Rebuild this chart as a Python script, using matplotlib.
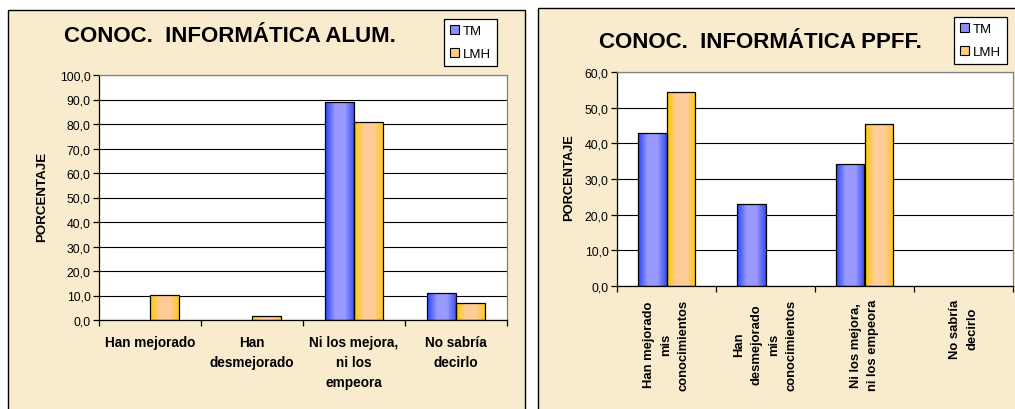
import numpy as np
import matplotlib
matplotlib.use('Agg')
import matplotlib.pyplot as plt
from matplotlib.colors import LinearSegmentedColormap
from matplotlib.patches import Rectangle
from matplotlib.ticker import FuncFormatter, MultipleLocator

plt.rcParams['font.family'] = ['Liberation Sans', 'DejaVu Sans']

# ---------------------------------------------------------------
# data (percentages)
series = ['TM', 'LMH']

alum_cats = ['Han mejorado', 'Han\ndesmejorado', 'Ni los mejora,\nni los\nempeora', 'No sabría\ndecirlo']
alum_tm = [0.0, 0.0, 88.8, 11.0]
alum_lmh = [10.2, 1.5, 80.7, 7.1]

ppff_cats = ['Han mejorado\nmis\nconocimientos', 'Han\ndesmejorado\nmis\nconocimientos',
             'Ni los mejora,\nni los empeora', 'No sabría\ndecirlo']
ppff_tm = [42.8, 22.9, 34.2, 0.0]
ppff_lmh = [54.3, 0.0, 45.3, 0.0]

W, H = 1015, 410
bg = '#f9ebcd'

# excel style horizontal gradients for the bars
blue_cm = LinearSegmentedColormap.from_list('blue', ['#2a44ff', '#9999ff', '#9a9aff', '#3a4cf0'])
orange_cm = LinearSegmentedColormap.from_list('orange', ['#ffc800', '#ffcc99', '#ffcc99', '#ffc61a'])
swatch = {'TM': '#8c8cff', 'LMH': '#ffcc80'}


def gradient_bars(ax, x, heights, width, cmap):
    bars = ax.bar(x, heights, width, color='none', edgecolor='black', linewidth=0.9, zorder=3)
    grad = np.linspace(0, 1, 64).reshape(1, -1)
    for b in bars:
        if b.get_height() <= 0:
            b.set_visible(False)
            continue
        x0, y0 = b.get_x(), b.get_y()
        im = ax.imshow(grad, cmap=cmap, aspect='auto', zorder=2.5, interpolation='bilinear',
                       extent=(x0, x0 + b.get_width(), y0, y0 + b.get_height()))
        im.set_clip_path(b)
    return bars


def fmt(v, pos):
    return f'{v:.1f}'.replace('.', ',')


def draw_chart(ax, cats, tm, lmh, ymax, rotate):
    ax.set_facecolor('white')
    centers = np.arange(len(cats)) + 0.5
    bw = 0.285
    gradient_bars(ax, centers - bw / 2, tm, bw, blue_cm)
    gradient_bars(ax, centers + bw / 2, lmh, bw, orange_cm)
    ax.set_xlim(0, len(cats))
    ax.set_ylim(0, ymax)
    ax.yaxis.set_major_locator(MultipleLocator(10))
    ax.yaxis.set_major_formatter(FuncFormatter(fmt))
    ax.yaxis.grid(True, color='black', linewidth=0.8)
    ax.set_axisbelow(True)
    # ticks between categories, labels at the centres
    ax.set_xticks(np.arange(len(cats) + 1))
    ax.set_xticklabels([])
    ax.set_xticks(centers, minor=True)
    if rotate:
        ax.set_xticklabels(cats, minor=True, rotation=90, ha='center', va='top',
                           multialignment='center', fontweight='bold', fontsize=9.4, linespacing=1.6)
        ax.tick_params(axis='x', which='minor', length=0, pad=9)
    else:
        ax.set_xticklabels(cats, minor=True, fontweight='bold', fontsize=9.8, linespacing=1.55)
        ax.tick_params(axis='x', which='minor', length=0, pad=11)
    ax.tick_params(axis='x', which='major', direction='out', length=4, width=0.9)
    ax.tick_params(axis='y', direction='out', length=4, width=0.9, labelsize=8.8, pad=2)
    for s in ['left', 'bottom']:
        ax.spines[s].set_color('black')
        ax.spines[s].set_linewidth(0.9)
    for s in ['top', 'right']:
        ax.spines[s].set_color('#808080')
        ax.spines[s].set_linewidth(0.9)


fig = plt.figure(figsize=(W / 100, H / 100), dpi=100)
fig.patch.set_facecolor('white')

# the two chart panels
fig.patches.append(Rectangle((8 / W, -0.01), (525 - 8) / W, 1.01 - 11 / H, transform=fig.transFigure,
                             facecolor=bg, edgecolor='black', linewidth=1.0, zorder=-10))
fig.patches.append(Rectangle((538 / W, -0.01), 0.5, 1.01 - 9 / H, transform=fig.transFigure,
                             facecolor=bg, edgecolor='black', linewidth=1.0, zorder=-10))

ax1 = fig.add_axes([99 / W, 1 - 321 / H, (507 - 99) / W, (321 - 76) / H])
draw_chart(ax1, alum_cats, alum_tm, alum_lmh, 100, rotate=False)

ax2 = fig.add_axes([617 / W, 1 - 287 / H, (1013 - 617) / W, (287 - 73) / H])
draw_chart(ax2, ppff_cats, ppff_tm, ppff_lmh, 60, rotate=True)

fig.text(230 / W, 1 - 37 / H, 'CONOC.  INFORMÁTICA ALUM.', ha='center', va='center',
         fontsize=16, fontweight='bold')
fig.text(760 / W, 1 - 42 / H, 'CONOC.  INFORMÁTICA PPFF.', ha='center', va='center',
         fontsize=16, fontweight='bold')

fig.text(42 / W, 1 - 197 / H, 'PORCENTAJE', rotation=90, ha='center', va='center',
         fontsize=9.6, fontweight='bold')
fig.text(569 / W, 1 - 178 / H, 'PORCENTAJE', rotation=90, ha='center', va='center',
         fontsize=9.3, fontweight='bold')

# legends
handles = [Rectangle((0, 0), 1, 1, facecolor=swatch[s], edgecolor='black', linewidth=0.8) for s in series]
for anchor in [(444 / W, 1 - 20 / H), (954 / W, 1 - 18 / H)]:
    leg = fig.legend(handles, series, loc='upper left', bbox_to_anchor=anchor, fontsize=9.5,
                     handlelength=0.7, handleheight=0.7, handletextpad=0.3, borderpad=0.45,
                     labelspacing=0.8, borderaxespad=0, fancybox=False, framealpha=1,
                     edgecolor='black')
    leg.get_frame().set_linewidth(0.9)

fig.savefig('out.png', dpi=100, facecolor=fig.get_facecolor())
